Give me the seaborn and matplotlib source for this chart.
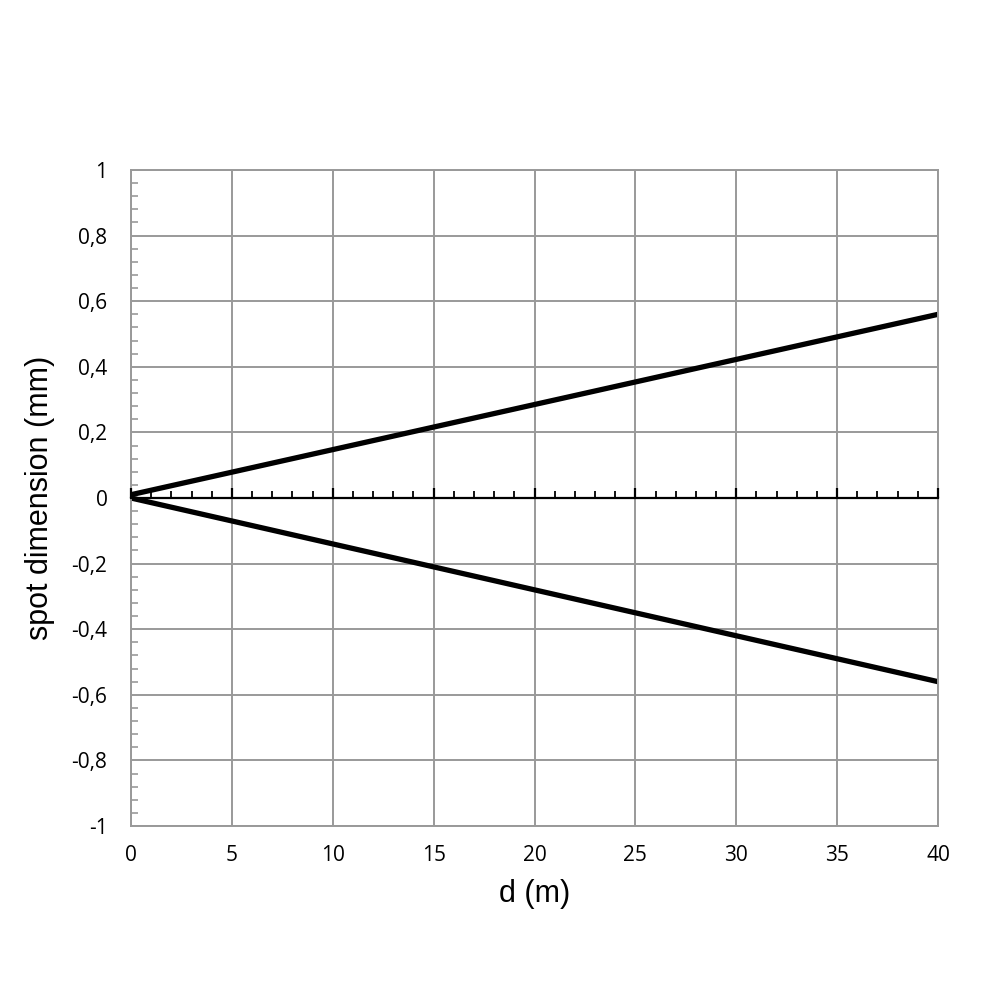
import numpy as np
import matplotlib
matplotlib.use("Agg")
import matplotlib.pyplot as plt
import seaborn as sns
from matplotlib.ticker import MultipleLocator, FuncFormatter

# data
distance = [0, 40]
spot_upper = [0.01, 0.56]
spot_lower = [0.0, -0.56]
x_ticks = [0, 5, 10, 15, 20, 25, 30, 35, 40]
y_ticks = [-1, -0.8, -0.6, -0.4, -0.2, 0, 0.2, 0.4, 0.6, 0.8, 1]

sns.set_theme(style="white")
plt.rcParams["font.family"] = ["Open Sans", "DejaVu Sans"]
plt.rcParams["text.color"] = "black"
plt.rcParams["axes.labelcolor"] = "black"

fig = plt.figure(figsize=(10, 10), dpi=100)
ax = fig.add_axes([0.131, 0.174, 0.807, 0.656])

sns.lineplot(x=distance, y=spot_upper, ax=ax, color="black", linewidth=3.8)
sns.lineplot(x=distance, y=spot_lower, ax=ax, color="black", linewidth=3.8)

ax.set_xlim(0, 40)
ax.set_ylim(-1, 1)
ax.set_xticks(x_ticks)
ax.set_yticks(y_ticks)
ax.yaxis.set_minor_locator(MultipleLocator(0.04))


def comma(v, pos):
    s = f"{v:g}"
    if s == "-0":
        s = "0"
    return s.replace(".", ",")


ax.yaxis.set_major_formatter(FuncFormatter(comma))
ax.xaxis.set_major_formatter(FuncFormatter(comma))

ax.grid(True, color="#999999", linewidth=1.4)
for side in ["left", "right", "top", "bottom"]:
    ax.spines[side].set_color("#999999")
    ax.spines[side].set_linewidth(1.4)

ax.tick_params(axis="x", which="major", length=0, labelsize=15, pad=14,
               colors="black")
ax.tick_params(axis="y", which="major", direction="in", length=0, labelsize=15,
               pad=17, colors="black")
ax.tick_params(axis="y", which="minor", direction="in", length=5, width=1.2,
               color="#999999", left=True)

# zero axis with its own ticks
ax2 = ax.twiny()
ax2.set_xlim(0, 40)
ax2.spines["bottom"].set_position(("data", 0))
ax2.spines["bottom"].set_color("black")
ax2.spines["bottom"].set_linewidth(1.6)
for side in ["left", "right", "top"]:
    ax2.spines[side].set_visible(False)
ax2.xaxis.set_ticks_position("bottom")
ax2.xaxis.set_major_locator(MultipleLocator(5))
ax2.xaxis.set_minor_locator(MultipleLocator(1))
ax2.tick_params(axis="x", which="major", direction="in", length=7, width=1.6,
                color="black", labelbottom=False, labeltop=False, top=False)
ax2.tick_params(axis="x", which="minor", direction="in", length=5, width=1.3,
                color="black", top=False)

ax.set_xlabel("d (m)", fontsize=22, family=["Liberation Sans", "DejaVu Sans"],
              labelpad=9)
ax.set_ylabel("spot dimension (mm)", fontsize=22,
              family=["Liberation Sans", "DejaVu Sans"], labelpad=12)

fig.savefig("out.png", dpi=100)
